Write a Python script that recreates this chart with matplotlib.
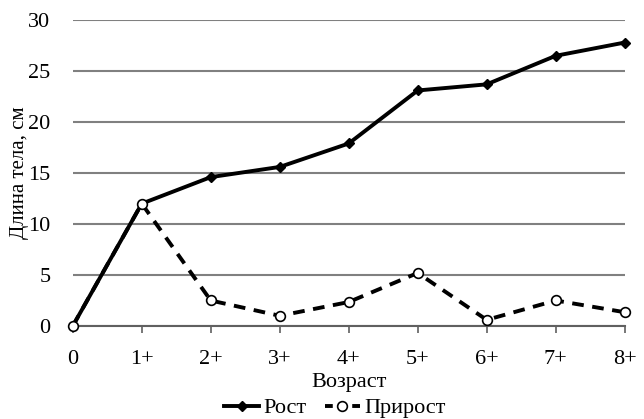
import matplotlib
matplotlib.use("Agg")
import matplotlib.pyplot as plt
from matplotlib.lines import Line2D

plt.rcParams['font.family'] = ['Liberation Serif', 'DejaVu Serif']

categories = ["0", "1+", "2+", "3+", "4+", "5+", "6+", "7+", "8+"]
growth = [0, 12.0, 14.6, 15.6, 17.9, 23.1, 23.7, 26.5, 27.8]
increment = [0, 12.0, 2.5, 1.0, 2.35, 5.2, 0.6, 2.5, 1.35]
yticks = [0, 5, 10, 15, 20, 25, 30]

fig = plt.figure(figsize=(6.44, 4.19), dpi=100)
ax = fig.add_axes([0.113, 0.222, 0.857, 0.730])
x = list(range(len(categories)))

ax.set_ylim(0, 30)
ax.set_xlim(0, len(categories) - 1)
ax.set_yticks(yticks)
ax.yaxis.grid(True, color='#808080', linewidth=1.5)
ax.set_axisbelow(True)

ax.plot(x, growth, color='black', linewidth=2.8, marker='D', markersize=5,
        markerfacecolor='black', clip_on=False, zorder=3, label='Рост')
ax.plot(x, increment, color='black', linewidth=2.8, linestyle=(0, (3, 2.2)),
        marker='o', markersize=7, markerfacecolor='white', markeredgecolor='black',
        markeredgewidth=1.2, clip_on=False, zorder=4, label='Прирост')

ax.set_xticks(x)
ax.set_xticklabels(categories, fontsize=16)
ax.tick_params(axis='y', length=0, labelsize=16, pad=16)
ax.tick_params(axis='x', length=5, width=1.2, color='#606060', pad=12, direction='out')
for s in ['top', 'right', 'left']:
    ax.spines[s].set_visible(False)
ax.spines['bottom'].set_color('#606060')
ax.spines['bottom'].set_linewidth(1.5)

ax.set_xlabel('Возраст', fontsize=16, labelpad=3)
ax.set_ylabel('Длина тела, см', fontsize=15)
ax.yaxis.set_label_coords(-0.08, 0.5)

handles = [Line2D([], [], color='black', linewidth=2.8, marker='D', markersize=5),
           Line2D([], [], color='black', linewidth=2.8, linestyle=(0, (2, 1.5)),
                  marker='o', markersize=7, markerfacecolor='white', markeredgewidth=1.2)]
fig.legend(handles, ['Рост', 'Прирост'], loc='center', bbox_to_anchor=(0.52, 0.026),
           ncol=2, frameon=False, fontsize=16, handlelength=1.6, columnspacing=0.8,
           handletextpad=0.2, borderpad=0)

fig.savefig('out.png', dpi=100)
